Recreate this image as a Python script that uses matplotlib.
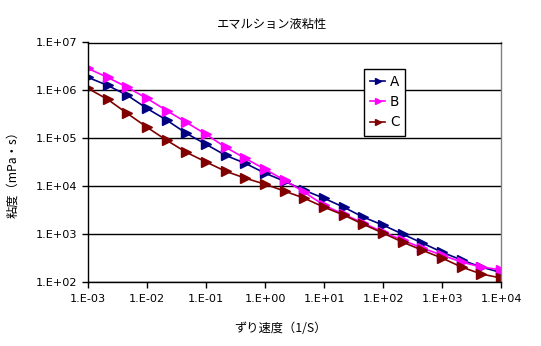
import numpy as np
import matplotlib
matplotlib.use('Agg')
import matplotlib.pyplot as plt
from matplotlib.ticker import FuncFormatter, LogLocator, NullLocator

plt.rcParams['font.family'] = ['DejaVu Sans', 'Noto Sans CJK JP']

# shear rate (1/S), three points per decade
shear = [1.0e-3, 2.15e-3, 4.64e-3,
         1.0e-2, 2.15e-2, 4.64e-2,
         1.0e-1, 2.15e-1, 4.64e-1,
         1.0e0, 2.15e0, 4.64e0,
         1.0e1, 2.15e1, 4.64e1,
         1.0e2, 2.15e2, 4.64e2,
         1.0e3, 2.15e3, 4.64e3,
         1.0e4]

visc_a = [1.87e6, 1.27e6, 7.9e5, 4.2e5, 2.4e5, 1.27e5, 7.5e4, 4.4e4, 3.0e4, 1.87e4, 1.27e4,
          8.2e3, 5.6e3, 3.65e3, 2.26e3, 1.54e3, 1.0e3, 650, 420, 287, 205, 158]
visc_b = [2.87e6, 1.87e6, 1.16e6, 6.8e5, 3.8e5, 2.15e5, 1.21e5, 6.5e4, 3.8e4, 2.26e4, 1.33e4,
          7.5e3, 4.0e3, 2.6e3, 1.7e3, 1.1e3, 750, 510, 365, 261, 205, 180]
visc_c = [1.10e6, 6.5e5, 3.3e5, 1.7e5, 9.1e4, 5.1e4, 3.2e4, 2.05e4, 1.47e4, 1.1e4, 7.9e3,
          5.6e3, 3.65e3, 2.5e3, 1.6e3, 1.05e3, 680, 460, 316, 205, 147, 121]

series_names = ['A', 'B', 'C']
series_colors = ['#000080', '#FF00FF', '#800000']

W, H = 541, 346
fig = plt.figure(figsize=(W / 100, H / 100), dpi=100)
ax = fig.add_axes([88 / W, 1 - 282 / H, (501 - 88) / W, (282 - 42.5) / H])

for name, vals, col in zip(series_names, [visc_a, visc_b, visc_c], series_colors):
    ax.plot(shear, vals, color=col, lw=1.2, marker='>', ms=6.5,
            markeredgecolor=col, markerfacecolor=col, label=name)

ax.set_xscale('log')
ax.set_yscale('log')
ax.set_xlim(1e-3, 1e4)
ax.set_ylim(1e2, 1e7)
ax.xaxis.set_major_locator(LogLocator(base=10, numticks=20))
ax.yaxis.set_major_locator(LogLocator(base=10, numticks=20))
ax.xaxis.set_minor_locator(NullLocator())
ax.yaxis.set_minor_locator(NullLocator())
fmt = FuncFormatter(lambda v, p: '1.E%+03d' % int(round(np.log10(v))))
ax.xaxis.set_major_formatter(fmt)
ax.yaxis.set_major_formatter(fmt)
ax.tick_params(axis='both', direction='out', length=4.3, width=1, labelsize=8.1, color='black')
ax.tick_params(axis='x', pad=4.5)
ax.tick_params(axis='y', pad=3.4)

ax.yaxis.grid(True, color='black', lw=1)
ax.set_axisbelow(True)
ax.spines['left'].set_color('black')
ax.spines['bottom'].set_color('black')
ax.spines['top'].set_color('black')
ax.spines['right'].set_color('#808080')
for s in ax.spines.values():
    s.set_linewidth(1)

leg = ax.legend(loc='upper left', bbox_to_anchor=(364 / W, 1 - 69 / H),
                bbox_transform=fig.transFigure, borderaxespad=0, fancybox=False,
                framealpha=1, edgecolor='black', fontsize=9.8, handlelength=1.1,
                handletextpad=0.35, labelspacing=0.45, borderpad=0.45)
leg.get_frame().set_linewidth(1)
for h in leg.legend_handles:
    h.set_markersize(5)

fig.text(272 / W, 1 - 24.5 / H, 'エマルション液粘性', ha='center', va='center',
         fontsize=8.8, family=['Noto Sans CJK JP', 'DejaVu Sans'])
fig.text(280 / W, 1 - 328 / H, 'ずり速度（1/S）', ha='center', va='center',
         fontsize=8.8, family=['Noto Sans CJK JP', 'DejaVu Sans'])
fig.text(13 / W, 1 - 172 / H, '粘度（mPa・s）', ha='center', va='center', rotation=90,
         fontsize=8.8, family=['Noto Sans CJK JP', 'DejaVu Sans'])

fig.savefig('out.png', dpi=100)
plt.close(fig)
